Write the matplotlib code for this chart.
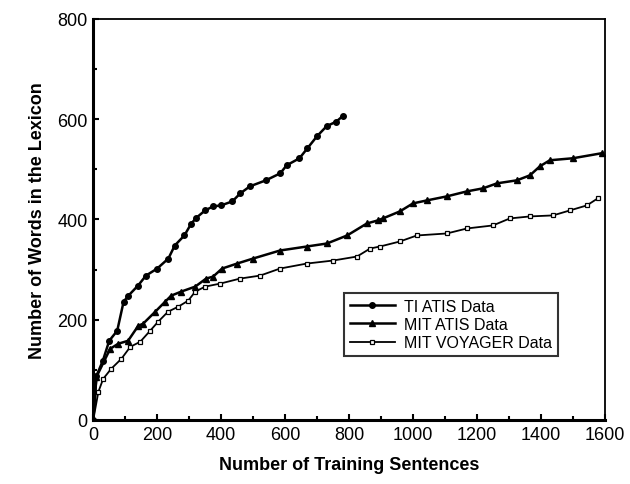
import matplotlib.pyplot as plt
from matplotlib.ticker import MultipleLocator

plt.rcParams['font.family'] = ['Liberation Sans', 'DejaVu Sans']

ti_x = [0, 10, 30, 50, 75, 95, 110, 140, 165, 200, 235, 255, 285, 305, 320, 350,
        375, 400, 435, 460, 490, 540, 585, 605, 645, 670, 700, 730, 760, 780]
ti_y = [0, 88, 118, 158, 178, 236, 248, 268, 288, 302, 322, 348, 368, 390, 402, 418,
        426, 428, 436, 452, 466, 478, 492, 508, 522, 542, 566, 586, 595, 606]

atis_x = [0, 10, 53, 78, 109, 141, 156, 194, 225, 244, 275, 319, 353, 375, 403, 450,
          500, 584, 668, 731, 794, 856, 890, 906, 959, 1000, 1044, 1106, 1169, 1219,
          1263, 1325, 1366, 1397, 1428, 1500, 1590]
atis_y = [0, 86, 142, 152, 158, 188, 192, 216, 236, 248, 256, 266, 282, 286, 302, 312,
          322, 338, 346, 352, 368, 392, 398, 402, 416, 432, 438, 446, 456, 462,
          472, 478, 488, 506, 518, 522, 532]

voy_x = [0, 16, 31, 56, 88, 116, 147, 178, 203, 234, 266, 297, 319, 350, 397, 459,
         522, 584, 668, 750, 825, 866, 897, 959, 1012, 1106, 1169, 1250, 1303, 1366,
         1438, 1491, 1544, 1578]
voy_y = [0, 56, 82, 102, 122, 146, 156, 178, 196, 216, 226, 238, 256, 266, 272, 282,
         288, 302, 312, 318, 326, 342, 346, 356, 368, 372, 382, 388, 402, 406,
         408, 418, 428, 442]

fig = plt.figure(figsize=(6.3, 4.85), dpi=100)
ax = fig.add_axes([0.148, 0.132, 0.812, 0.827])

ax.plot(ti_x, ti_y, color='black', lw=1.8, marker='o', ms=4, label='TI ATIS Data')
ax.plot(atis_x, atis_y, color='black', lw=1.8, marker='^', ms=4, label='MIT ATIS Data')
ax.plot(voy_x, voy_y, color='black', lw=1.3, marker='s', ms=3.2, mfc='white',
        mew=0.9, label='MIT VOYAGER Data')

ax.set_xlim(0, 1600)
ax.set_ylim(0, 800)
ax.xaxis.set_major_locator(MultipleLocator(200))
ax.xaxis.set_minor_locator(MultipleLocator(100))
ax.yaxis.set_major_locator(MultipleLocator(200))
ax.yaxis.set_minor_locator(MultipleLocator(100))
ax.tick_params(which='both', direction='in', width=1.5, labelsize=13, pad=4)
ax.tick_params(which='major', length=4)
ax.tick_params(which='minor', length=3)

ax.spines['left'].set_linewidth(2.2)
ax.spines['bottom'].set_linewidth(2.2)
ax.spines['top'].set_linewidth(1.3)
ax.spines['right'].set_linewidth(1.3)

ax.set_xlabel('Number of Training Sentences', fontsize=13, fontweight='bold', labelpad=10)
ax.set_ylabel('Number of Words in the Lexicon', fontsize=13, fontweight='bold', labelpad=8)

leg = ax.legend(loc='lower left', bbox_to_anchor=(0.475, 0.14), fontsize=11.5,
                frameon=True, fancybox=False, edgecolor='black', borderpad=0.35,
                labelspacing=0.2, handlelength=2.8, handletextpad=0.6)
leg.get_frame().set_linewidth(1.5)

fig.savefig('out.png', dpi=100)
